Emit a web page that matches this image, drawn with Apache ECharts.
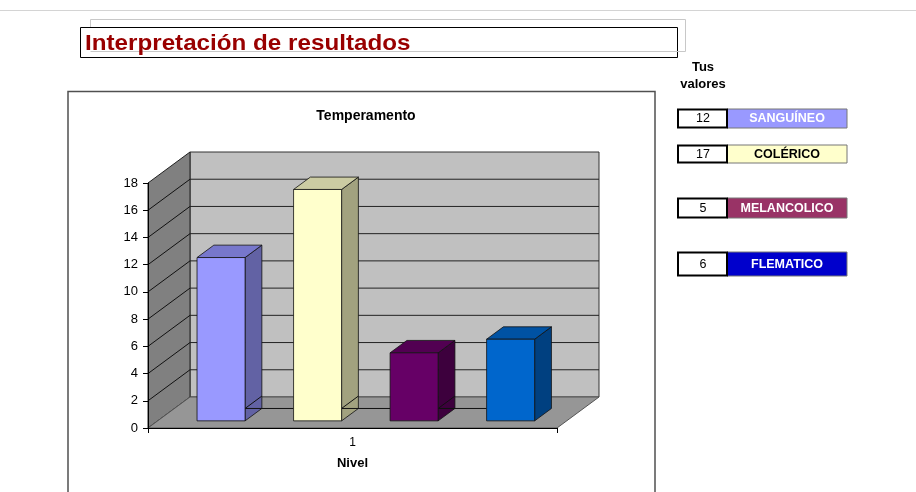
<!DOCTYPE html>
<html><head><meta charset="utf-8">
<script src="https://cdn.jsdelivr.net/npm/echarts@6/dist/echarts.min.js"></script>
<style>html,body{margin:0;padding:0;background:#fff}#c{width:916px;height:492px}</style>
</head><body><div id="c"></div>
<script>
// ---- data ----
const categories = ['1'];
const seriesNames = ['SANGUÍNEO', 'COLÉRICO', 'MELANCOLICO', 'FLEMATICO'];
const seriesValues = [12, 17, 5, 6];
const yMin = 0, yMax = 18, yStep = 2;
const pageTitle = 'Interpretación de resultados';
const chartTitle = 'Temperamento';
const xAxisName = 'Nivel';
const panelTitle = ['Tus', 'valores'];

// ---- styles ----
const barFront = ['#9999FF', '#FFFFCC', '#660066', '#0066CC'];
const barSide  = ['#6262A4', '#A2A27F', '#3D003D', '#004080'];
const barTop   = ['#7777CC', '#CCCCA3', '#520052', '#0052A3'];
const legendFill = ['#9999FF', '#FFFFCC', '#993366', '#0000CC'];
const legendInk  = ['#FFFFFF', '#000000', '#FFFFFF', '#FFFFFF'];
const legendRowTop = [109, 145, 198, 252];
const legendRowH   = [19, 18, 20, 24];

const DX = 42, DY = -31;        // full-depth oblique projection
const F1 = 0.23, F2 = 0.63;     // bar depth span (fraction of depth)
const BAR_W = 0.1174, BAR_GAP = 0.236, BAR_SHIFT = 0.009; // fractions of band

const chart = echarts.init(document.getElementById('c'), null, {renderer: 'canvas'});

function renderWalls(params, api) {
  const c0 = api.coord([0, yMin]);
  const bw = api.size([1, 0])[0];
  const xl = c0[0] - bw / 2, xr = c0[0] + bw / 2;
  const yb = c0[1];
  const yt = api.coord([0, yMax])[1];
  const ch = [];
  ch.push({type: 'polygon', shape: {points: [[xl + DX, yt + DY], [xr + DX, yt + DY], [xr + DX, yb + DY], [xl + DX, yb + DY]]},
    style: {fill: '#C0C0C0', stroke: '#333', lineWidth: 1}});
  ch.push({type: 'polygon', shape: {points: [[xl, yb], [xl, yt], [xl + DX, yt + DY], [xl + DX, yb + DY]]},
    style: {fill: '#808080', stroke: '#222', lineWidth: 1}});
  ch.push({type: 'polygon', shape: {points: [[xl, yb], [xr, yb], [xr + DX, yb + DY], [xl + DX, yb + DY]]},
    style: {fill: '#969696', stroke: '#555', lineWidth: 1}});
  for (let v = yMin + yStep; v < yMax; v += yStep) {
    const y = api.coord([0, v])[1];
    ch.push({type: 'line', shape: {x1: xl, y1: y, x2: xl + DX, y2: y + DY}, style: {stroke: '#111', lineWidth: 1}});
    ch.push({type: 'line', shape: {x1: xl + DX, y1: y + DY, x2: xr + DX, y2: y + DY}, style: {stroke: '#222', lineWidth: 1}});
  }
  return {type: 'group', children: ch};
}

function barGeom(api, i, v) {
  const c = api.coord([0, yMin]);
  const bw = api.size([1, 0])[0];
  const w = BAR_W * bw;
  const cx = c[0] + BAR_SHIFT * bw + (i - (seriesValues.length - 1) / 2) * BAR_GAP * bw;
  const dx1 = F1 * DX, dy1 = F1 * DY;
  const x0 = cx - w / 2 + dx1;
  const yb = c[1] + dy1;
  const yt = api.coord([0, v])[1] + dy1;
  return {x0, w, yb, yt, ddx: (F2 - F1) * DX, ddy: (F2 - F1) * DY};
}

function renderBars(params, api) {
  const i = api.value(2);
  const v = api.value(1);
  const g = barGeom(api, i, v);
  const {x0, w, yb, yt, ddx, ddy} = g;
  const st = {stroke: '#111', lineWidth: 0.8};
  const ch = [];
  ch.push({type: 'polygon', shape: {points: [[x0 + w, yb], [x0 + w, yt], [x0 + w + ddx, yt + ddy], [x0 + w + ddx, yb + ddy]]},
    style: Object.assign({fill: barSide[i]}, st)});
  if (i < seriesValues.length - 1) {
    const nx = barGeom(api, i + 1, v).x0;
    ch.push({type: 'line', shape: {x1: x0 + w, y1: yb + ddy, x2: nx, y2: yb + ddy}, style: {stroke: '#111', lineWidth: 1}});
    ch.push({type: 'line', shape: {x1: x0 + w, y1: yb + ddy, x2: x0 + w + ddx, y2: yb + 2 * ddy}, style: {stroke: '#111', lineWidth: 1}});
  }
  ch.push({type: 'polygon', shape: {points: [[x0, yt], [x0 + w, yt], [x0 + w + ddx, yt + ddy], [x0 + ddx, yt + ddy]]},
    style: Object.assign({fill: barTop[i]}, st)});
  ch.push({type: 'rect', shape: {x: x0, y: yt, width: w, height: yb - yt},
    style: Object.assign({fill: barFront[i]}, st)});
  return {type: 'group', children: ch};
}

const graphic = [
  {type: 'line', shape: {x1: 0, y1: 10.5, x2: 916, y2: 10.5}, style: {stroke: '#d4d4d4', lineWidth: 1}},
  {type: 'rect', shape: {x: 80.5, y: 27.5, width: 597, height: 30}, style: {fill: '#fff', stroke: '#000', lineWidth: 1}},
  {type: 'polyline', shape: {points: [[90.5, 27], [90.5, 19.5], [685.5, 19.5], [685.5, 51.5], [90.5, 51.5]]}, style: {fill: null, stroke: '#c8c8c8', lineWidth: 1}},
  {type: 'text', x: 85, y: 43.5, scaleX: 1.1, style: {text: pageTitle, fill: '#990000', font: 'bold 22px "Liberation Sans", Arial, sans-serif', verticalAlign: 'middle', align: 'left'}},
  {type: 'rect', shape: {x: 68, y: 91.5, width: 587, height: 430}, style: {fill: null, stroke: '#505050', lineWidth: 1.5}},
  {type: 'text', x: 366, y: 116, style: {text: chartTitle, fill: '#000', font: 'bold 14px "Liberation Sans", Arial, sans-serif', align: 'center', verticalAlign: 'middle'}},
  {type: 'text', x: 703, y: 67, style: {text: panelTitle[0], fill: '#000', font: 'bold 13px "Liberation Sans", Arial, sans-serif', align: 'center', verticalAlign: 'middle'}},
  {type: 'text', x: 703, y: 84, style: {text: panelTitle[1], fill: '#000', font: 'bold 13px "Liberation Sans", Arial, sans-serif', align: 'center', verticalAlign: 'middle'}}
];
seriesNames.forEach((name, i) => {
  const top = legendRowTop[i], h = legendRowH[i];
  graphic.push({type: 'rect', shape: {x: 727, y: top, width: 120, height: h}, style: {fill: legendFill[i], stroke: '#777', lineWidth: 1}});
  graphic.push({type: 'rect', shape: {x: 678, y: top + 0.5, width: 49, height: h - 1}, style: {fill: '#fff', stroke: '#000', lineWidth: 2}});
  graphic.push({type: 'text', x: 703, y: top + h / 2 + 0.5, style: {text: String(seriesValues[i]), fill: '#000', font: '12.5px "Liberation Sans", Arial, sans-serif', align: 'center', verticalAlign: 'middle'}});
  graphic.push({type: 'text', x: 787, y: top + h / 2 + 0.5, style: {text: name, fill: legendInk[i], font: 'bold 12.5px "Liberation Sans", Arial, sans-serif', align: 'center', verticalAlign: 'middle'}});
});

chart.setOption({
  animation: false,
  backgroundColor: '#fff',
  textStyle: {fontFamily: '"Liberation Sans", Arial, sans-serif'},
  grid: {left: 148, top: 183, width: 409, height: 245, containLabel: false, outerBoundsMode: 'none'},
  xAxis: {
    type: 'category', data: categories, boundaryGap: true,
    axisLine: {show: true, lineStyle: {color: '#000', width: 1}},
    axisTick: {show: true, length: 5, lineStyle: {color: '#000'}},
    axisLabel: {fontSize: 12, color: '#000', margin: 9},
    name: xAxisName, nameLocation: 'middle', nameGap: 29,
    nameTextStyle: {fontSize: 13, fontWeight: 'bold', color: '#000'},
    splitLine: {show: false}, z: 10
  },
  yAxis: {
    type: 'value', min: yMin, max: yMax, interval: yStep,
    axisLine: {show: true, lineStyle: {color: '#000', width: 1}},
    axisTick: {show: true, length: 5, lineStyle: {color: '#000'}},
    axisLabel: {fontSize: 13, color: '#000', margin: 10},
    splitLine: {show: false}, z: 10
  },
  graphic: graphic,
  series: [
    {type: 'custom', name: 'walls', renderItem: renderWalls, data: [[0, 0]], z: 1, silent: true, clip: false},
    {type: 'custom', name: 'bars', renderItem: renderBars,
     data: seriesValues.map((v, i) => ({name: seriesNames[i], value: [0, v, i]})),
     encode: {x: 0, y: 1}, z: 2, clip: false}
  ]
});
</script></body></html>
